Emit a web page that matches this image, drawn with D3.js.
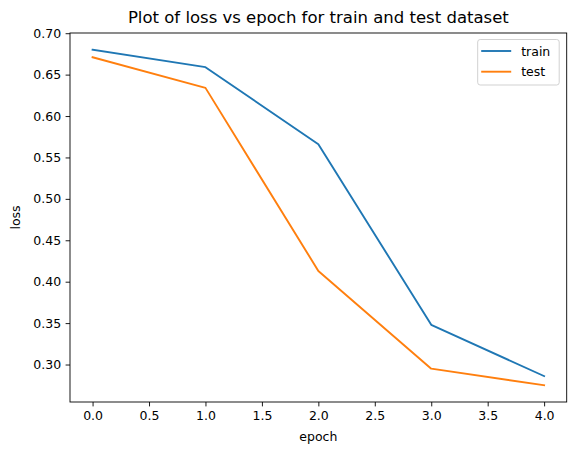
<!DOCTYPE html>
<html>
<head>
<meta charset="utf-8">
<script src="https://cdn.jsdelivr.net/npm/d3@7"></script>
<style>
  body { margin: 0; background: #fff; }
  svg text { font-family: "DejaVu Sans", sans-serif; fill: #000; }
</style>
</head>
<body>
<div id="chart"></div>
<script>
// data
const epochs = [0, 1, 2, 3, 4];
const trainLoss = [0.680, 0.659, 0.566, 0.348, 0.286];
const testLoss = [0.671, 0.634, 0.413, 0.295, 0.275];
const xTicks = [0, 0.5, 1, 1.5, 2, 2.5, 3, 3.5, 4];
const yTicks = [0.30, 0.35, 0.40, 0.45, 0.50, 0.55, 0.60, 0.65, 0.70];
const seriesNames = ["train", "test"];
const colors = ["#1f77b4", "#ff7f0e"];

const W = 576, H = 455;
const margin = {top: 33, right: 9.3, bottom: 53, left: 70};
const width = W - margin.left - margin.right,
      height = H - margin.top - margin.bottom;

const svg = d3.select("#chart").append("svg")
    .attr("width", W)
    .attr("height", H);

const g = svg.append("g")
    .attr("transform", `translate(${margin.left},${margin.top})`);

// matplotlib style auto limits with 5% margins
const xPad = (d3.max(epochs) - d3.min(epochs)) * 0.05;
const x = d3.scaleLinear()
    .domain([d3.min(epochs) - xPad, d3.max(epochs) + xPad])
    .range([0, width]);

const allY = trainLoss.concat(testLoss);
const yPad = (d3.max(allY) - d3.min(allY)) * 0.05;
const y = d3.scaleLinear()
    .domain([d3.min(allY) - yPad, d3.max(allY) + yPad])
    .range([height, 0]);

// x axis
const xAxis = g.append("g")
    .attr("transform", `translate(0,${height})`)
    .call(d3.axisBottom(x).tickValues(xTicks).tickFormat(d3.format(".1f"))
        .tickSize(4.4).tickPadding(4.4));

// y axis
const yAxis = g.append("g")
    .call(d3.axisLeft(y).tickValues(yTicks).tickFormat(d3.format(".2f"))
        .tickSize(4.4).tickPadding(4.4));

[xAxis, yAxis].forEach(a => {
    a.select(".domain").remove();
    a.selectAll(".tick line").attr("stroke", "#000").attr("stroke-width", 0.9);
    a.selectAll("text").attr("font-size", "12.5px").attr("font-family", "DejaVu Sans");
});

// frame
g.append("rect")
    .attr("width", width)
    .attr("height", height)
    .attr("fill", "none")
    .attr("stroke", "#000")
    .attr("stroke-width", 0.9);

// lines
const line = d3.line()
    .x((d, i) => x(epochs[i]))
    .y(d => y(d));

[trainLoss, testLoss].forEach((s, i) => {
    g.append("path")
        .datum(s)
        .attr("d", line)
        .attr("fill", "none")
        .attr("stroke", colors[i])
        .attr("stroke-width", 1.9)
        .attr("stroke-linecap", "square")
        .attr("stroke-linejoin", "round");
});

// title
svg.append("text")
    .attr("x", margin.left + width / 2)
    .attr("y", 23)
    .attr("text-anchor", "middle")
    .attr("font-size", "16.5px")
    .text("Plot of loss vs epoch for train and test dataset");

// axis labels
svg.append("text")
    .attr("x", margin.left + width / 2)
    .attr("y", 441)
    .attr("text-anchor", "middle")
    .attr("font-size", "12.5px")
    .text("epoch");

svg.append("text")
    .attr("transform", `translate(20,${margin.top + height / 2}) rotate(-90)`)
    .attr("text-anchor", "middle")
    .attr("font-size", "12.5px")
    .text("loss");

// legend
const legend = g.append("g")
    .attr("transform", `translate(${width - 89},6.5)`);

legend.append("rect")
    .attr("width", 81.5)
    .attr("height", 45.5)
    .attr("rx", 2.5)
    .attr("fill", "#fff")
    .attr("fill-opacity", 0.8)
    .attr("stroke", "#ccc")
    .attr("stroke-width", 0.9);

seriesNames.forEach((name, i) => {
    legend.append("line")
        .attr("x1", 3.5)
        .attr("x2", 33.5)
        .attr("y1", 11.5 + i * 20.7)
        .attr("y2", 11.5 + i * 20.7)
        .attr("stroke", colors[i])
        .attr("stroke-width", 1.9);
    legend.append("text")
        .attr("x", 43.5)
        .attr("y", 16 + i * 20.7)
        .attr("font-size", "12.5px")
        .text(name);
});
</script>
</body>
</html>
